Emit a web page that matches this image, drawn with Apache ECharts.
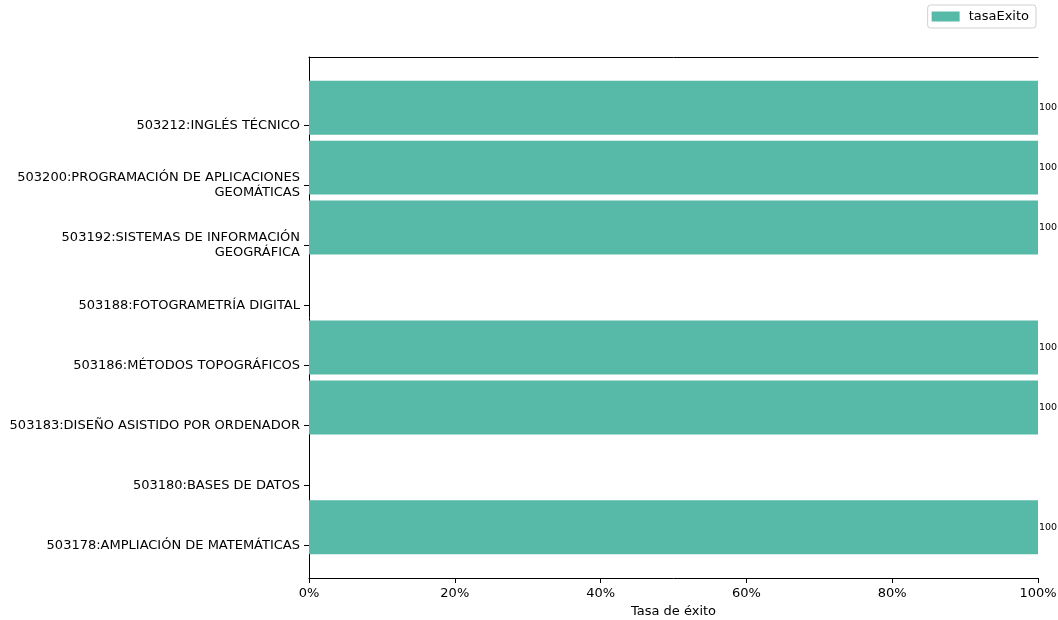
<!DOCTYPE html>
<html>
<head>
<meta charset="utf-8">
<script src="https://cdn.jsdelivr.net/npm/echarts@6/dist/echarts.min.js"></script>
<style>html,body{margin:0;padding:0;background:#fff}#c{width:1058px;height:620px}</style>
</head>
<body>
<div id="c"></div>
<script>
const categories = [
  '503178:AMPLIACIÓN DE MATEMÁTICAS',
  '503180:BASES DE DATOS',
  '503183:DISEÑO ASISTIDO POR ORDENADOR',
  '503186:MÉTODOS TOPOGRÁFICOS',
  '503188:FOTOGRAMETRÍA DIGITAL',
  '503192:SISTEMAS DE INFORMACIÓN\nGEOGRÁFICA',
  '503200:PROGRAMACIÓN DE APLICACIONES\nGEOMÁTICAS',
  '503212:INGLÉS TÉCNICO'
];
const tasaExito = [100, null, 100, 100, null, 100, 100, 100];
const xTicks = [0, 20, 40, 60, 80, 100];

const BAR_OFFSET = 0.3, BAR_H = 0.9;
const lo = -BAR_H/2 + BAR_OFFSET, hi = categories.length - 1 + BAR_H/2 + BAR_OFFSET;
const pad = (hi - lo) * 0.05;
const catIdx = categories.map((_, i) => i);
const FONT = 'DejaVu Sans';

const chart = echarts.init(document.getElementById('c'));
chart.setOption({
  animation: false,
  textStyle: {fontFamily: FONT},
  legend: {
    data: [{name: 'tasaExito', icon: 'rect'}],
    right: 22, top: 5,
    borderColor: '#d0d0d0', borderWidth: 1, borderRadius: 3,
    padding: [5, 7, 5, 4],
    itemWidth: 28, itemHeight: 10, itemGap: 8,
    textStyle: {fontSize: 13, color: '#000', fontFamily: FONT, padding: [0, 0, 0, 4]}
  },
  grid: {left: 309, right: 20, top: 57, bottom: 42, containLabel: false, outerBoundsMode: 'none'},
  xAxis: [{
    type: 'value', min: 0, max: 100, interval: 20,
    name: 'Tasa de éxito', nameLocation: 'middle', nameGap: 27,
    nameTextStyle: {fontSize: 13, color: '#000', fontFamily: FONT},
    axisLine: {show: true, onZero: false, lineStyle: {color: '#000', width: 1}},
    axisTick: {show: true, length: 5, customValues: xTicks, lineStyle: {color: '#000'}},
    axisLabel: {customValues: xTicks, formatter: v => v + '%', fontSize: 13, color: '#000', margin: 9, fontFamily: FONT},
    splitLine: {show: false}
  }, {
    type: 'value', position: 'top', min: 0, max: 100,
    axisLine: {show: true, onZero: false, lineStyle: {color: '#000', width: 1}},
    axisTick: {show: false}, axisLabel: {show: false}, splitLine: {show: false}
  }],
  yAxis: {
    type: 'value', min: lo - pad, max: hi + pad,
    axisLine: {show: true, onZero: false, lineStyle: {color: '#000', width: 1}},
    axisTick: {show: true, length: 5, customValues: catIdx, lineStyle: {color: '#000'}},
    axisLabel: {
      customValues: catIdx, margin: 9, fontSize: 13, color: '#000', lineHeight: 15,
      align: 'right', fontFamily: FONT,
      formatter: v => categories[Math.round(v)] || ''
    },
    splitLine: {show: false}
  },
  series: [{
    name: 'tasaExito', type: 'custom',
    itemStyle: {color: '#57b9a7'},
    data: tasaExito.map((v, i) => [v, i]),
    encode: {x: 0, y: 1},
    renderItem: function (params, api) {
      const v = api.value(0);
      if (v == null || isNaN(v)) return null;
      const i = api.value(1);
      const p0 = api.coord([0, i + BAR_OFFSET + BAR_H/2]);
      const p1 = api.coord([v, i + BAR_OFFSET - BAR_H/2]);
      return {
        type: 'group',
        children: [{
          type: 'rect',
          shape: {x: p0[0], y: p0[1], width: p1[0] - p0[0], height: p1[1] - p0[1]},
          style: {fill: '#57b9a7'}
        }, {
          type: 'text',
          style: {
            text: String(v), x: p1[0] + 1, y: (p0[1] + p1[1]) / 2,
            fontSize: 9.5, fill: '#000', fontFamily: FONT,
            align: 'left', verticalAlign: 'middle'
          }
        }]
      };
    }
  }]
});
</script>
</body>
</html>
